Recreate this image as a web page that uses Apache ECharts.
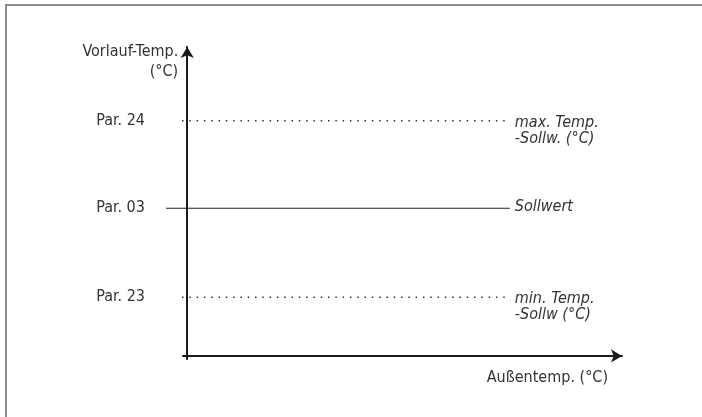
<!DOCTYPE html>
<html>
<head>
<meta charset="utf-8">
<script src="https://cdn.jsdelivr.net/npm/echarts@6/dist/echarts.min.js"></script>
<style>
html,body{margin:0;padding:0;background:#fff;}
#main{width:702px;height:417px;}
</style>
</head>
<body>
<div id="main"></div>
<script>
// Data
const tickLabels = ['Par. 24', 'Par. 03', 'Par. 23'];
const lineNames = ['max. Temp.\n-Sollw. (°C)', 'Sollwert', 'min. Temp.\n-Sollw (°C)'];
const levels = [76.1, 47.8, 19.0];
const lineStart = [-1.2, -4.9, -1.2];
const lineEnd = [74.2, 74.2, 74.2];
const yAxisName = 'Vorlauf-Temp.\n(°C)';
const xAxisName = 'Außentemp. (°C)';

const FONT = "'Liberation Sans Narrow','DejaVu Sans Condensed','Roboto',sans-serif";
const dashed = [true, false, true];
const leftDist = [37, 21, 37];

const series = levels.map((lv, i) => ({
  type: 'line',
  name: lineNames[i],
  xAxisIndex: 0,
  yAxisIndex: 0,
  symbol: 'circle',
  symbolSize: 0.01,
  showSymbol: true,
  silent: true,
  animation: false,
  itemStyle: { color: '#333' },
  lineStyle: dashed[i]
    ? { color: '#333', width: 1.5, type: [1.5, 5.8] }
    : { color: '#222', width: 1, type: 'solid' },
  data: [
    { value: [lineStart[i], lv],
      label: { show: true, position: 'left', distance: leftDist[i], formatter: tickLabels[i],
        fontFamily: FONT, fontSize: 16, color: '#333' } },
    { value: [lineEnd[i], lv],
      label: { show: true, position: 'right', distance: 5, formatter: lineNames[i],
        fontFamily: FONT, fontSize: 16, fontStyle: 'italic', color: '#333', align: 'left',
        lineHeight: 16, offset: [0, lineNames[i].indexOf('\n') >= 0 ? 10 : -1] } }
  ]
}));

const noAxisBits = { splitLine: { show: false }, axisTick: { show: false }, axisLabel: { show: false } };
const axisLineStyle = { color: '#1a1a1a', width: 2 };

const chart = echarts.init(document.getElementById('main'), null, { renderer: 'canvas' });
chart.setOption({
  animation: false,
  backgroundColor: '#fff',
  grid: [
    { left: 165.5, right: 80, top: 47, bottom: 58 },
    { left: 183, right: 80, top: 47, bottom: 58 }
  ],
  xAxis: [
    Object.assign({ type: 'value', gridIndex: 0, min: -5, max: 100,
      axisLine: { show: false } }, noAxisBits),
    Object.assign({ type: 'value', gridIndex: 1, min: -1, max: 100,
      axisLine: { show: true, onZero: true, symbol: ['none', 'arrow'], symbolSize: [10, 11],
        lineStyle: axisLineStyle },
      name: xAxisName, nameLocation: 'end', nameGap: -14,
      nameTextStyle: { fontFamily: FONT, fontSize: 16, color: '#333', align: 'right',
        verticalAlign: 'top', padding: [14, 0, 0, 0] } }, noAxisBits)
  ],
  yAxis: [
    Object.assign({ type: 'value', gridIndex: 0, min: -1, max: 100,
      axisLine: { show: true, onZero: true, symbol: ['none', 'arrow'], symbolSize: [10, 11],
        lineStyle: axisLineStyle },
      name: yAxisName, nameLocation: 'end', nameGap: -15,
      nameTextStyle: { fontFamily: FONT, fontSize: 16, color: '#333', align: 'right',
        verticalAlign: 'middle', lineHeight: 20, padding: [0, 9, 0, 0] } }, noAxisBits),
    Object.assign({ type: 'value', gridIndex: 1, min: -1, max: 100,
      axisLine: { show: false } }, noAxisBits)
  ],
  graphic: [
    { type: 'polyline', silent: true,
      shape: { points: [[6, 417], [6, 5], [702, 5]] },
      style: { stroke: '#8a8a8a', lineWidth: 2, fill: null } }
  ],
  series: series
});
</script>
</body>
</html>
